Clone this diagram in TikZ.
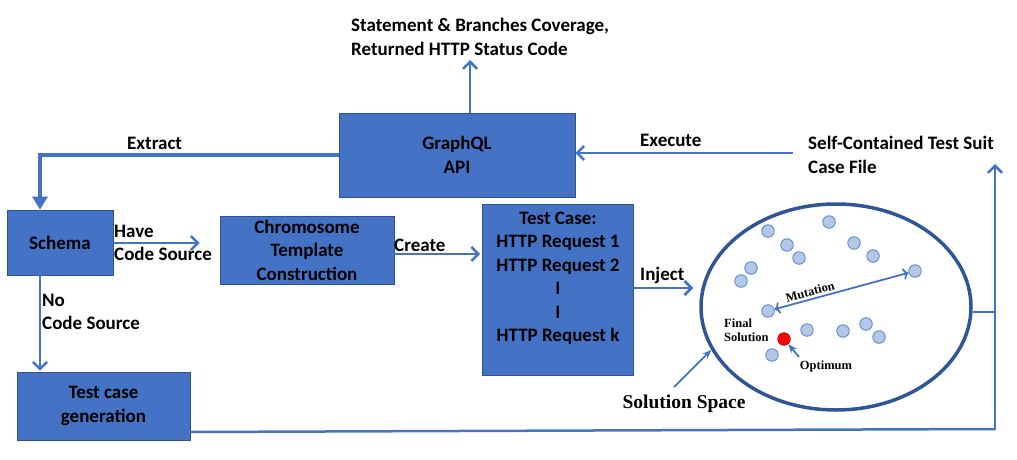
\documentclass[tikz,border=0pt]{standalone}
\usepackage{fontspec}
\setsansfont{Carlito}
\newfontfamily\tnr{Liberation Serif}
\usetikzlibrary{arrows.meta,shapes.geometric}
\definecolor{boxblue}{HTML}{4472C4}
\definecolor{boxedge}{HTML}{2F528F}
\definecolor{ablue}{HTML}{4472C4}
\definecolor{ellblue}{HTML}{2F5597}
\definecolor{dotfill}{HTML}{B4C7E7}
\definecolor{dotedge}{HTML}{5B8BD0}
\tikzset{
  sflab/.style={font=\sffamily\bfseries\fontsize{19}{23.5}\selectfont, inner sep=0pt, align=left},
  bluebox/.style={draw=boxedge, fill=boxblue, line width=0.8pt, inner sep=0pt, align=center,
    font=\sffamily\bfseries\fontsize{19}{23.5}\selectfont},
  arr/.style={draw=ablue, line width=2.5pt, -{Straight Barb[length=7pt,width=14pt,line width=2.5pt]}},
  thickarr/.style={draw=ablue, line width=4.2pt, -{Triangle[length=13pt,width=15pt]}},
  plainline/.style={draw=ablue, line width=2.5pt},
  thinarr/.style={draw=ablue, line width=1.8pt, -{Stealth[length=9pt,width=7pt]}},
  dot/.style={circle, draw=dotedge, fill=dotfill, line width=0.9pt, minimum size=12.5pt, inner sep=0pt},
  serlab/.style={font=\tnr\bfseries\fontsize{12.5}{14}\selectfont, inner sep=0pt, align=left},
}
\begin{document}
\begin{tikzpicture}[x=1pt,y=-1pt]
\useasboundingbox (0,0) rectangle (1017,460);

% boxes
\node[bluebox, minimum width=236pt, minimum height=84pt] (api) at (457,155) {GraphQL\\API};
\node[bluebox, minimum width=106pt, minimum height=65pt] (schema) at (60,242.5) {Schema};
\node[bluebox, minimum width=174pt, minimum height=68pt] (chrom) at (307,250) {Chromosome\\Template\\Construction};
\node[bluebox, minimum width=151pt, minimum height=171pt] (test) at (558,289.5) {};
\node[sflab, align=center] (testtxt) at (558,278.5) {Test Case:\\HTTP Request 1\\HTTP Request 2\\I\\I\\HTTP Request k};
\node[bluebox, minimum width=173pt, minimum height=68pt] (tcg) at (103.5,406) {Test case\\generation};

% solution space
\node[ellipse, draw=ellblue, line width=3.5pt, minimum width=270pt, minimum height=206pt, inner sep=0pt] (sp) at (836,307) {};

% dots
\node[dot] (d1) at (768,231) {};
\node[dot] (d2) at (829,222) {};
\node[dot] (d3) at (787,245) {};
\node[dot] (d4) at (799,258) {};
\node[dot] (d5) at (854,243) {};
\node[dot] (d6) at (873,256) {};
\node[dot] (d7) at (751,268) {};
\node[dot] (d8) at (741,281) {};
\node[dot] (d9) at (915,271) {};
\node[dot] (d10) at (768,311) {};
\node[dot] (d11) at (807,330) {};
\node[dot] (d12) at (843,331) {};
\node[dot] (d13) at (866,324) {};
\node[dot] (d14) at (879,337) {};
\node[dot] (d15) at (772,355) {};
\node[circle, draw=red!80!black, fill=red, line width=0.8pt, minimum size=12.5pt, inner sep=0pt] (opt) at (784,339) {};

% labels
\node[sflab, anchor=west] (toplab) at (351,37) {Statement \& Branches Coverage,\\Returned HTTP Status Code};
\node[sflab, anchor=west] (extlab) at (127,143) {Extract};
\node[sflab, anchor=west] (havelab) at (114,243) {Have\\Code Source};
\node[sflab, anchor=west] (crlab) at (394,245) {Create};
\node[sflab, anchor=west] (injlab) at (640,275) {Inject};
\node[sflab, anchor=west] (exelab) at (640,140) {Execute};
\node[sflab, anchor=west] (nolab) at (42,312) {No\\Code Source};
\node[sflab, anchor=west] (selflab) at (808,155) {Self-Contained Test Suit\\Case File};
\node[serlab, anchor=west] (finlab) at (724,330) {Final\\Solution};
\node[serlab, anchor=center] (optlab) at (826,366) {Optimum};
\node[font=\tnr\bfseries\fontsize{19.5}{22}\selectfont, inner sep=0pt] (sslab) at (684,404) {Solution Space};

% coordinates
\coordinate (upend) at (470,60);
\coordinate (exstart) at (793,153);
\coordinate (rx) at (995,312);
\coordinate (rbot) at (995,429);
\coordinate (rtop) at (995,164);
\coordinate (bstart) at (190,432);
\coordinate (opst) at (799,357);
\coordinate (ssst) at (674,387);

% connectors
\draw[arr] (api.north -| upend) -- (upend);
\draw[thickarr] (api.west) -| ([xshift=-20pt]schema.north);
\draw[arr] (exstart) -- (exstart -| api.east);
\draw[arr, shorten >=20pt] ([yshift=-0.5pt]schema.east) -- ([yshift=-0.5pt]schema.east -| chrom.west);
\draw[arr, shorten >=2pt] ([yshift=-4pt]chrom.east) -- ([yshift=-4pt]chrom.east -| test.west);
\draw[arr, shorten >=6pt] ([yshift=1.5pt]test.east) -- ([yshift=1.5pt]test.east -| sp.west);
\draw[arr, shorten >=1pt] ([xshift=-20pt]schema.south) -- ([xshift=-20pt]schema.south |- tcg.north);
\draw[plainline] (sp.east |- rx) -- (rx);
\draw[plainline] (bstart) -- (rbot);
\draw[arr] ([yshift=-1.25pt]rbot) -- (rtop);
\draw[thinarr, <->] (d10) -- node[pos=0.28, sloped, above=2pt, serlab] (mutlab) {Mutation} (d9);
\draw[thinarr] (opst) -- (opt);
\draw[thinarr] (ssst) -- (sp.199);
\end{tikzpicture}
\end{document}
